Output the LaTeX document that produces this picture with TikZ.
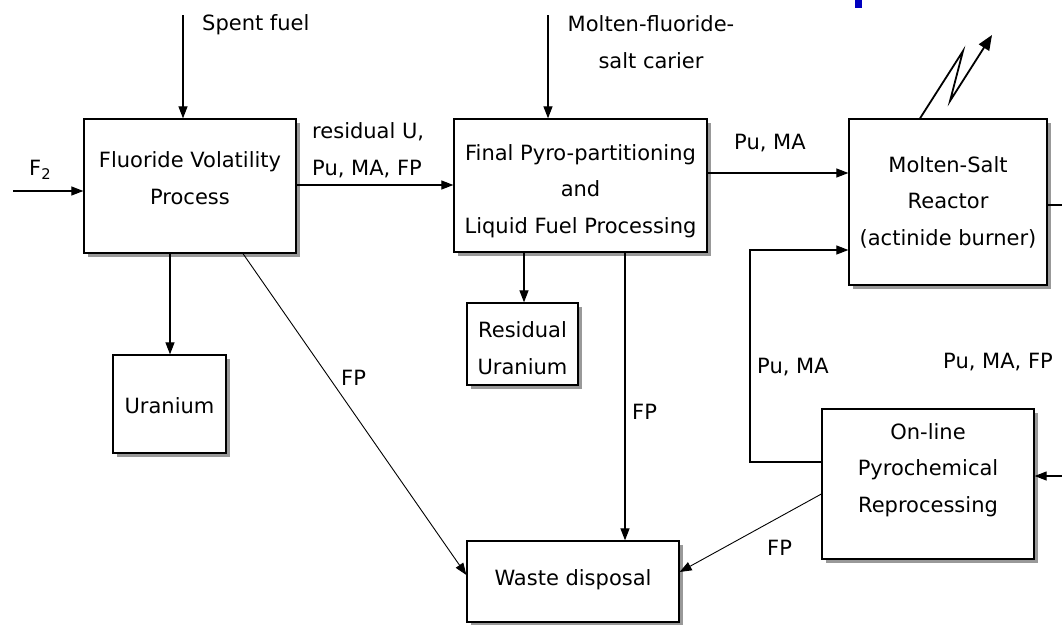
\documentclass[tikz,border=0pt]{standalone}
\usepackage{fontspec}
\setmainfont{DejaVu Sans}
\usetikzlibrary{arrows.meta,shadows}
\begin{document}
\begin{tikzpicture}[x=1pt,y=-1pt,
  every node/.style={font=\fontsize{21}{36.5}\selectfont},
  blk/.style={draw=black, line width=1.3pt, fill=white, inner sep=0pt,
    drop shadow={shadow xshift=4pt, shadow yshift=-4pt, fill=gray!80, opacity=1}},
  txt/.style={align=center, inner sep=0pt},
  con/.style={draw=black, line width=1.2pt},
  arr/.style={con, -{Triangle[length=12pt,width=9pt]}},
  lbl/.style={inner sep=0pt, align=left}
]
\useasboundingbox (0,0) rectangle (1062,624);
% boxes
\node[blk, minimum width=212pt, minimum height=134pt] (fvp) at (190,186) {};
\node[blk, minimum width=253pt, minimum height=133pt] (fin) at (580.5,185.5) {};
\node[blk, minimum width=198pt, minimum height=166pt] (msr) at (948,202) {};
\node[blk, minimum width=212pt, minimum height=150pt] (onl) at (928,484) {};
\node[blk, minimum width=113pt, minimum height=98pt] (ura) at (169.5,404) {};
\node[blk, minimum width=111pt, minimum height=82pt] (rura) at (522.5,344) {};
\node[blk, minimum width=212pt, minimum height=81pt] (wst) at (573,581.5) {};
% box texts
\node[txt] (tfvp) at (190,178) {Fluoride Volatility\\Process};
\node[txt] (tfin) at (580.5,191) {Final Pyro-partitioning\\and\\Liquid Fuel Processing};
\node[txt] (tmsr) at (948,202) {Molten-Salt\\Reactor\\(actinide burner)};
\node[txt] (tonl) at (928,470) {On-line\\Pyrochemical\\Reprocessing};
\node[txt] (tura) at (169.5,406) {Uranium};
\node[txt] (trura) at (522.5,348) {Residual\\Uranium};
\node[txt] (twst) at (573,580) {Waste disposal};
% free ends
\coordinate (f2s) at (13,191);
\coordinate (sfs) at (183,15);
\coordinate (mfs) at (548,15);
\coordinate (l1) at (963,51);
\coordinate (l2) at (950,101);
\coordinate (l3) at (992,35);
\coordinate (rx) at (1062,205);
\coordinate (rin) at (1062,476);
\coordinate (pm1) at (750,462);
\coordinate (pm2) at (750,250);
% connectors
\draw[arr] (f2s) -- (fvp.west |- f2s);
\draw[arr] (sfs) -- (fvp.north -| sfs);
\draw[arr] (mfs) -- (fin.north -| mfs);
\draw[arr] (fvp.east |- 0,185) -- (fin.west |- 0,185);
\draw[arr] (fin.east |- 0,173) -- (msr.west |- 0,173);
\draw[arr] (fvp.south -| 170,0) -- (ura.north -| 170,0);
\draw[arr] (fin.south -| 524,0) -- (rura.north -| 524,0);
\draw[arr] (fin.south -| 625,0) -- (wst.north -| 625,0);
\draw[con, -{Triangle[length=12pt,width=9pt]}, line width=0.9pt] (fvp.south -| 243,0) -- (wst.west |- 0,575);
\draw[con, -{Triangle[length=12pt,width=9pt]}, line width=0.9pt] (onl.west |- 0,494) -- (wst.east |- 0,572);
\draw[arr] (onl.west |- pm1) -- (pm1) -- (pm2) -- (msr.west |- pm2);
\draw[con, line width=1.8pt, -{Triangle[length=15pt,width=12pt]}] (msr.north -| 920,0) -- (l1) -- (l2) -- (l3);
\draw[con] (msr.east |- rx) -- (rx);
\draw[arr] (rin) -- (onl.east |- rin);
% labels
\node[lbl, anchor=west] (tf2) at (29,170) {F\textsubscript{2}};
\node[lbl, anchor=west] (tsf) at (202,25) {Spent fuel};
\node[lbl, align=center] (tmf) at (651,42) {Molten-fluoride-\\salt carier};
\node[lbl, anchor=west] (tru) at (312,150) {residual U,\\Pu, MA, FP};
\node[lbl, anchor=west] (tpm) at (734,143) {Pu, MA};
\node[lbl, anchor=west] (tfp1) at (341,378) {FP};
\node[lbl, anchor=west] (tfp2) at (632,412) {FP};
\node[lbl, anchor=west] (tpm2) at (757,367) {Pu, MA};
\node[lbl, anchor=west] (tpmf) at (943,362) {Pu, MA, FP};
\node[lbl, anchor=west] (tfp3) at (767,548) {FP};
% blue fragment at top
\fill[blue!75!black] (855,0) rectangle (862,8);
\end{tikzpicture}
\end{document}
